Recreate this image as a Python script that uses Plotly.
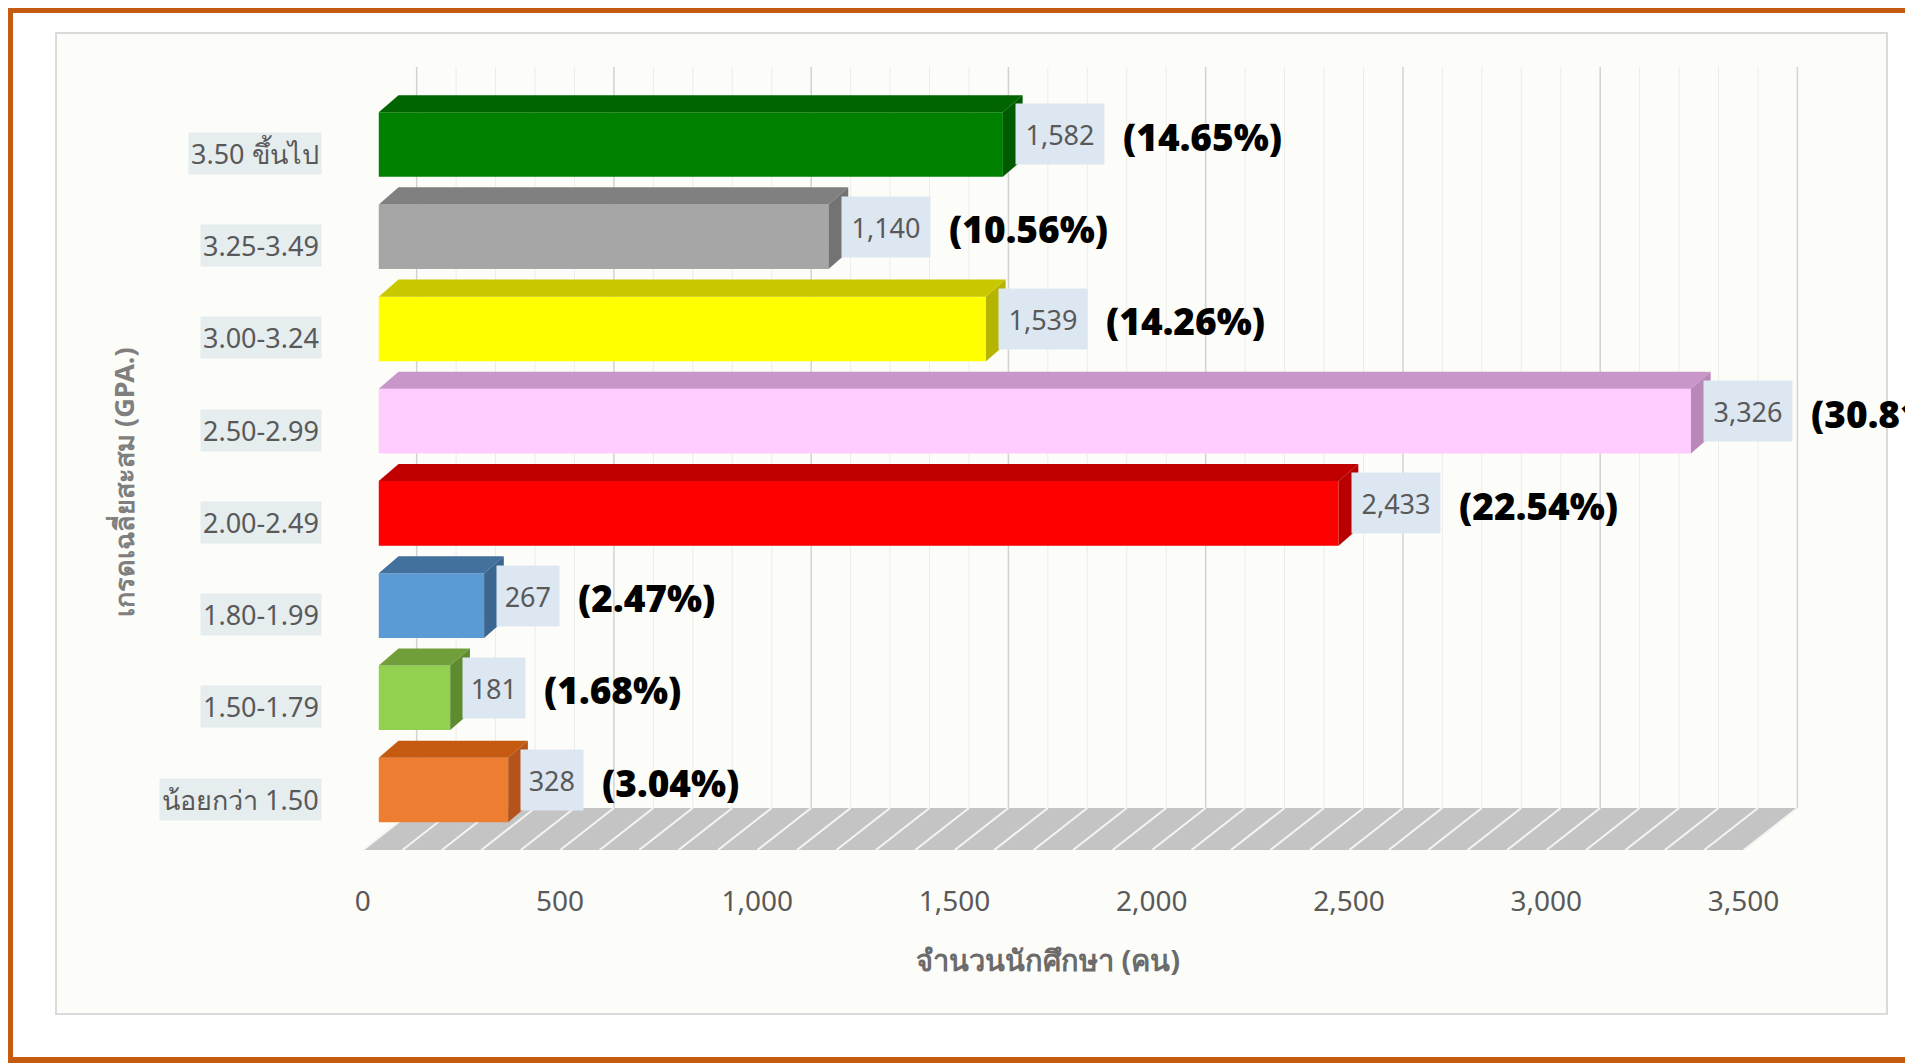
import plotly.graph_objects as go

# ข้อมูล: จากล่างขึ้นบน
categories = ["น้อยกว่า 1.50", "1.50-1.79", "1.80-1.99", "2.00-2.49",
              "2.50-2.99", "3.00-3.24", "3.25-3.49", "3.50 ขึ้นไป"]
students = [328, 181, 267, 2433, 3326, 1539, 1140, 1582]
value_labels = ["328", "181", "267", "2,433", "3,326", "1,539", "1,140", "1,582"]
percent_labels = ["(3.04%)", "(1.68%)", "(2.47%)", "(22.54%)",
                  "(30.81%)", "(14.26%)", "(10.56%)", "(14.65%)"]
x_ticks = [0, 500, 1000, 1500, 2000, 2500, 3000, 3500]
x_ticktext = ["0", "500", "1,000", "1,500", "2,000", "2,500", "3,000", "3,500"]
minor_step = 100

# colori: faccia frontale, faccia superiore, lato
front_colors = ["#ed7d31", "#92d050", "#5b9bd5", "#ff0000",
                "#ffccff", "#ffff00", "#a6a6a6", "#008000"]
top_colors = ["#c55a11", "#6f9e3a", "#41719c", "#c00000",
              "#c896c8", "#c8c800", "#808080", "#006400"]
side_colors = ["#b5531a", "#5e8a30", "#3a6690", "#b80000",
               "#b988b9", "#b5b500", "#737373", "#005a00"]

# geometria (pixel dello schermo; la pagina ha 8px di margine nel body)
W, H = 1913, 1063
OFF = 8
PLOT_L, PLOT_R, PLOT_T, PLOT_B = 363, 1799, 67, 850   # posizioni a schermo
ML, MT = PLOT_L - OFF, PLOT_T - OFF
MR, MB = W - (PLOT_R - OFF), H - (PLOT_B - OFF)
X_RANGE = [-40, 3600]
Y_RANGE = [-0.65, 7.84]
BAR_W = 0.7
DX, DY = 50, 0.185           # profondita' 3D delle barre
WALL_DX = 96                 # parete di fondo
FLOOR_DX = -40               # bordo anteriore del pavimento
FLOOR_BACK_Y = -0.195

FONT = "Noto Sans, Open Sans, sans-serif"


def px_x(px):
    return (px - PLOT_L) / (PLOT_R - PLOT_L)


def px_y(py):
    return (PLOT_B - py) / (PLOT_B - PLOT_T)


ypos = list(range(len(categories)))
grid_ticks = list(range(x_ticks[0], x_ticks[-1] + 1, minor_step))
x_end = x_ticks[-1]

fig = go.Figure()

# barre (faccia frontale)
fig.add_trace(
    go.Bar(
        x=students,
        y=ypos,
        orientation="h",
        width=BAR_W,
        marker=dict(color=front_colors, line=dict(width=0)),
        hoverinfo="skip",
    )
)

# facce superiori e laterali
h = BAR_W / 2
for yv, val, tc, sc in zip(ypos, students, top_colors, side_colors):
    fig.add_trace(
        go.Scatter(
            x=[0, val, val + DX, DX, 0],
            y=[yv + h, yv + h, yv + h + DY, yv + h + DY, yv + h],
            fill="toself", fillcolor=tc, mode="lines", line=dict(width=0),
            hoverinfo="skip",
        )
    )
    fig.add_trace(
        go.Scatter(
            x=[val, val + DX, val + DX, val, val],
            y=[yv - h, yv - h + DY, yv + h + DY, yv + h, yv - h],
            fill="toself", fillcolor=sc, mode="lines", line=dict(width=0),
            hoverinfo="skip",
        )
    )

shapes = []
# cornice arancione
shapes.append(dict(type="rect", xref="paper", yref="paper",
                   x0=px_x(9.5), y0=px_y(9.5), x1=px_x(1960), y1=px_y(1060.5),
                   line=dict(color="#c55a11", width=7), layer="below"))
# area del grafico
shapes.append(dict(type="rect", xref="paper", yref="paper",
                   x0=px_x(56), y0=px_y(33), x1=px_x(1887), y1=px_y(1014),
                   fillcolor="#fcfcf8", line=dict(color="#dadada", width=2),
                   layer="below"))
# griglia sulla parete di fondo
for t in grid_ticks:
    major = t in x_ticks
    shapes.append(dict(type="line", xref="x", yref="y",
                       x0=t + WALL_DX, x1=t + WALL_DX,
                       y0=FLOOR_BACK_Y, y1=Y_RANGE[1],
                       line=dict(color="#d2d2d2" if major else "#ececec",
                                 width=1.5 if major else 1),
                       layer="between"))
# pavimento
shapes.append(dict(type="path", xref="x", yref="y",
                   path=f"M {FLOOR_DX},{Y_RANGE[0]} L {x_end + FLOOR_DX},{Y_RANGE[0]} "
                        f"L {x_end + WALL_DX},{FLOOR_BACK_Y} L {WALL_DX},{FLOOR_BACK_Y} Z",
                   fillcolor="#c4c4c4", line=dict(width=0), layer="between"))
for t in grid_ticks:
    shapes.append(dict(type="line", xref="x", yref="y",
                       x0=t + FLOOR_DX, y0=Y_RANGE[0],
                       x1=t + WALL_DX, y1=FLOOR_BACK_Y,
                       line=dict(color="#f4f4f4", width=2), layer="between"))

annotations = []
# etichette delle categorie
for yv, cat in zip(ypos, categories):
    annotations.append(dict(
        x=px_x(322), xref="paper", xanchor="right",
        y=yv, yref="y", yshift=-9,
        text=cat, showarrow=False,
        font=dict(family=FONT, size=27, color="#595959"),
        bgcolor="rgba(222,232,236,0.75)", borderpad=2,
    ))

# valori e percentuali
for yv, val, vl, pl in zip(ypos, students, value_labels, percent_labels):
    box_w = 13.2 * len(vl) + 22
    annotations.append(dict(
        x=val, xref="x", xanchor="left", xshift=12,
        y=yv, yref="y", yshift=10,
        text=vl, showarrow=False, width=box_w, height=60, borderpad=0,
        font=dict(family=FONT, size=27, color="#595959"),
        bgcolor="#dde7f2",
    ))
    annotations.append(dict(
        x=val, xref="x", xanchor="left", xshift=12 + box_w + 18,
        y=yv, yref="y", yshift=8,
        text=pl, showarrow=False,
        font=dict(family="Open Sans", size=37, color="#000000", weight=800),
    ))

# titoli degli assi
annotations.append(dict(
    x=px_x(1048), y=px_y(960), xref="paper", yref="paper",
    xanchor="center", yanchor="middle",
    text="<b>จำนวนนักศึกษา (คน)</b>", showarrow=False,
    font=dict(family=FONT, size=29, color="#6b6b6b"),
))
annotations.append(dict(
    x=px_x(124), y=px_y(482), xref="paper", yref="paper",
    xanchor="center", yanchor="middle",
    text="<b>เกรดเฉลี่ยสะสม (GPA.)</b>", showarrow=False, textangle=-90,
    font=dict(family=FONT, size=27, color="#7f7f7f"),
))

fig.update_layout(
    width=W, height=H,
    margin=dict(l=ML, r=MR, t=MT, b=MB, pad=0),
    paper_bgcolor="#ffffff",
    plot_bgcolor="rgba(0,0,0,0)",
    showlegend=False,
    shapes=shapes,
    annotations=annotations,
)
fig.update_xaxes(
    range=X_RANGE, tickvals=x_ticks, ticktext=x_ticktext,
    showgrid=False, zeroline=False, showline=False, ticks="",
    tickfont=dict(family=FONT, size=28, color="#595959"),
    ticklabelshift=-16, ticklabelstandoff=32,
)
fig.update_yaxes(
    range=Y_RANGE, showticklabels=False,
    showgrid=False, zeroline=False, showline=False,
)

fig.write_html("out.html")
